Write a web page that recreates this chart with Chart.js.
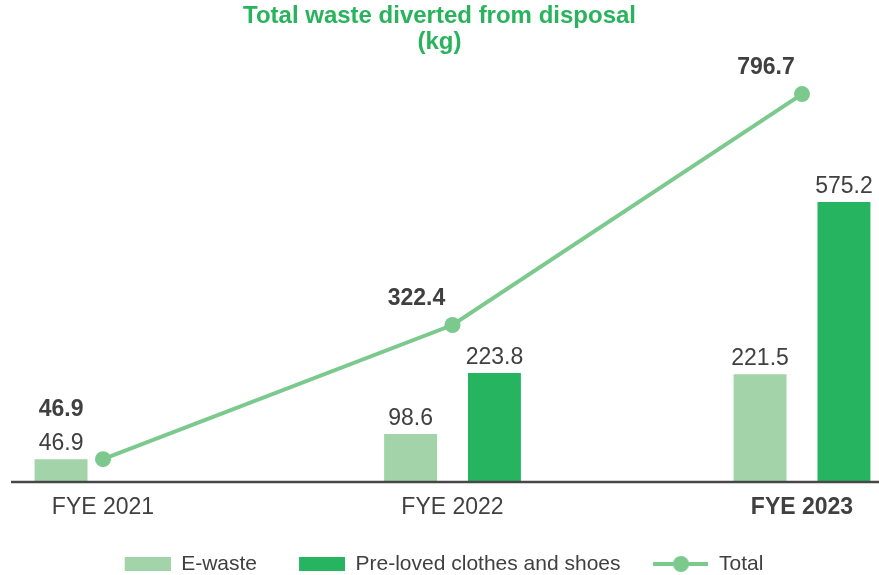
<!DOCTYPE html>
<html>
<head>
<meta charset="utf-8">
<script src="https://cdn.jsdelivr.net/npm/chart.js@4.4.1/dist/chart.umd.min.js"></script>
<style>
  html, body { margin: 0; padding: 0; background: #fff; }
</style>
</head>
<body>
<canvas id="wasteChart" width="879" height="575"></canvas>
<script>
// data
const categories = ['FYE 2021', 'FYE 2022', 'FYE 2023'];
const eWaste = [46.9, 98.6, 221.5];
const preLoved = [null, 223.8, 575.2];
const total = [46.9, 322.4, 796.7];

const LIGHT = '#a3d4a9';
const DARK = '#26b460';
const LINE = '#7cc98e';
const TEXT = '#404040';
const FONT = "'Liberation Sans', Arial, sans-serif";

Chart.defaults.font.family = FONT;
Chart.defaults.color = TEXT;

// legend symbols, drawn into small canvases (small transparent gap on the left)
const SYM_W = 55;
function makeSymbol(draw) {
  const cv = document.createElement('canvas');
  cv.width = SYM_W;
  cv.height = 18;
  draw(cv.getContext('2d'));
  return cv;
}
const rectSymbol = color => makeSymbol(c => {
  c.fillStyle = color;
  c.fillRect(SYM_W - 46, 2, 46, 14);
});
const lineSymbol = makeSymbol(c => {
  c.strokeStyle = LINE;
  c.lineWidth = 4;
  c.beginPath();
  c.moveTo(0, 9);
  c.lineTo(SYM_W, 9);
  c.stroke();
  c.fillStyle = LINE;
  c.beginPath();
  c.arc(SYM_W / 2, 9, 8, 0, Math.PI * 2);
  c.fill();
});

// value labels + full width base line
const valueLabels = {
  id: 'valueLabels',
  afterDatasetsDraw(chart) {
    const ctx = chart.ctx;
    const area = chart.chartArea;

    ctx.save();
    ctx.strokeStyle = '#474747';
    ctx.lineWidth = 2.5;
    ctx.beginPath();
    ctx.moveTo(11, area.bottom);
    ctx.lineTo(chart.width, area.bottom);
    ctx.stroke();

    ctx.fillStyle = TEXT;
    ctx.textAlign = 'center';
    ctx.textBaseline = 'alphabetic';
    ctx.font = '23px ' + FONT;
    [0, 1].forEach(di => {
      const meta = chart.getDatasetMeta(di);
      const vals = chart.data.datasets[di].data;
      meta.data.forEach((bar, i) => {
        if (vals[i] == null) return;
        ctx.fillText(vals[i].toFixed(1), bar.x, bar.y - 9);
      });
    });

    ctx.font = 'bold 23px ' + FONT;
    ctx.textBaseline = 'middle';
    const lineMeta = chart.getDatasetMeta(2);
    const eMeta = chart.getDatasetMeta(0);
    lineMeta.data.forEach((pt, i) => {
      let x = pt.x - 36;
      let y = pt.y - 26;
      const bar = eMeta.data[i];
      // keep clear of the e-waste label when the point sits low
      if (Math.abs(x - bar.x) < 60 && Math.abs(y - (bar.y - 17)) < 25) {
        x = bar.x;
        y = bar.y - 50;
      }
      ctx.fillText(total[i].toFixed(1), x, y);
    });
    ctx.restore();
  }
};

new Chart(document.getElementById('wasteChart'), {
  data: {
    labels: categories,
    datasets: [
      {
        type: 'bar',
        label: 'E-waste',
        data: eWaste,
        backgroundColor: LIGHT,
        categoryPercentage: 0.48,
        barPercentage: 0.631,
        clip: false
      },
      {
        type: 'bar',
        label: 'Pre-loved clothes and shoes',
        data: preLoved,
        backgroundColor: DARK,
        categoryPercentage: 0.48,
        barPercentage: 0.631,
        clip: false
      },
      {
        type: 'line',
        label: 'Total',
        data: total,
        borderColor: LINE,
        backgroundColor: LINE,
        borderWidth: 4,
        pointRadius: 8,
        pointBorderWidth: 0,
        pointBackgroundColor: LINE,
        tension: 0,
        clip: false
      }
    ]
  },
  options: {
    responsive: false,
    animation: false,
    layout: { padding: 0 },
    scales: {
      x: {
        offset: false,
        grid: { display: false, drawTicks: false },
        border: { display: false },
        ticks: {
          padding: 12,
          color: TEXT,
          font: c => ({
            size: 23,
            weight: c.index === categories.length - 1 ? 'bold' : 'normal',
            lineHeight: 1.2
          })
        },
        afterFit: s => { s.height = 38.5; }
      },
      y: {
        min: 0,
        max: 900,
        grid: { display: false, drawTicks: false },
        border: { display: false },
        ticks: { display: false },
        afterFit: s => { s.width = 103; }
      },
      yRight: {
        type: 'linear',
        position: 'right',
        grid: { display: false, drawTicks: false },
        border: { display: false },
        ticks: { display: false },
        afterFit: s => { s.width = 77; }
      }
    },
    plugins: {
      tooltip: { enabled: false },
      title: {
        display: true,
        text: ['Total waste diverted from disposal', '(kg)'],
        color: '#28b35c',
        font: { size: 24, weight: 'bold', lineHeight: 1.1 },
        padding: { top: 3, bottom: -12 }
      },
      legend: {
        position: 'bottom',
        maxHeight: 54.5,
        labels: {
          usePointStyle: true,
          pointStyleWidth: SYM_W,
          boxHeight: 14,
          padding: 33,
          color: TEXT,
          font: { size: 21 },
          generateLabels(chart) {
            const items = Chart.defaults.plugins.legend.labels.generateLabels(chart);
            items.sort((a, b) => a.datasetIndex - b.datasetIndex);
            items.forEach(it => {
              const ds = chart.data.datasets[it.datasetIndex];
              it.pointStyle = ds.type === 'line' ? lineSymbol : rectSymbol(ds.backgroundColor);
              it.lineWidth = 0;
            });
            return items;
          }
        }
      }
    }
  },
  plugins: [valueLabels]
});
</script>
</body>
</html>
